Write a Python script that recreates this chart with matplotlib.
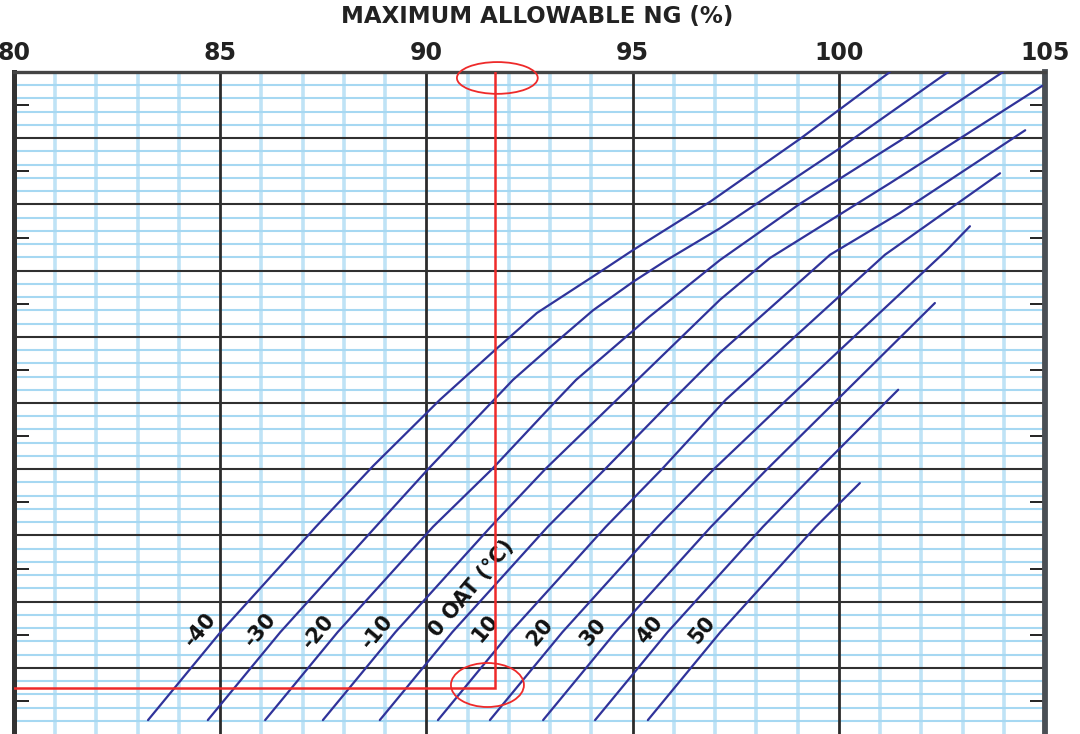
import matplotlib
matplotlib.use("Agg")
import matplotlib.pyplot as plt
from matplotlib.patches import Ellipse
import numpy as np

# ---- chart data: maximum allowable NG (%) vs chart level, one curve per OAT (deg C)
oat_labels = ["-40", "-30", "-20", "-10", "0 OAT (°C)", "10", "20", "30", "40", "50"]

ng_m40 = [83.25, 85.01, 87.32, 88.71, 90.33, 91.61, 92.68, 94.21, 95.01, 96.88, 99.06, 101.24]
lv_m40 = [0.21, 1.54, 3.13, 4.05, 5.05, 5.77, 6.36, 6.98, 7.31, 8.04, 8.99, 10.00]

ng_m30 = [84.70, 86.46, 88.77, 90.04, 92.10, 92.92, 94.04, 95.01, 95.83, 97.12, 100.03, 102.65]
lv_m30 = [0.21, 1.54, 3.13, 4.00, 5.35, 5.80, 6.40, 6.83, 7.16, 7.64, 8.85, 10.00]

ng_m20 = [86.09, 87.85, 90.16, 91.59, 93.17, 93.63, 95.40, 97.12, 99.06, 101.48, 103.98]
lv_m20 = [0.21, 1.54, 3.13, 4.00, 5.05, 5.35, 6.30, 7.16, 8.01, 8.96, 10.00]

ng_m10 = [87.49, 89.25, 91.56, 92.88, 94.62, 97.12, 98.33, 101.24, 104.93]
lv_m10 = [0.21, 1.54, 3.13, 4.00, 5.05, 6.56, 7.19, 8.32, 9.79]

ng_p00 = [88.87, 90.63, 92.94, 94.33, 95.98, 97.12, 99.79, 101.48, 104.52]
lv_p00 = [0.21, 1.54, 3.13, 4.00, 5.05, 5.76, 7.24, 7.87, 9.12]

ng_p10 = [90.28, 92.04, 94.35, 95.71, 97.26, 101.12, 103.91]
lv_p10 = [0.21, 1.54, 3.13, 4.00, 5.05, 7.24, 8.47]

ng_p20 = [91.54, 93.30, 95.61, 96.97, 98.74, 102.62, 103.18]
lv_p20 = [0.21, 1.54, 3.13, 4.00, 5.05, 7.31, 7.67]

ng_p30 = [92.83, 94.59, 96.90, 98.26, 102.33]
lv_p30 = [0.21, 1.54, 3.13, 4.00, 6.51]

ng_p40 = [94.09, 95.85, 98.16, 99.52, 101.44]
lv_p40 = [0.21, 1.54, 3.13, 4.00, 5.20]

ng_p50 = [95.37, 97.13, 99.44, 100.51]
lv_p50 = [0.21, 1.54, 3.13, 3.79]

ng_ticks = [80, 85, 90, 95, 100, 105]

# worked example: read-off point
ng_read = 91.66
level_read = 0.69

curves = [(ng_m40, lv_m40), (ng_m30, lv_m30), (ng_m20, lv_m20), (ng_m10, lv_m10),
          (ng_p00, lv_p00), (ng_p10, lv_p10), (ng_p20, lv_p20), (ng_p30, lv_p30),
          (ng_p40, lv_p40), (ng_p50, lv_p50)]

# curve label anchors (NG, level)
label_ng = [84.51, 85.97, 87.37, 88.80, 91.10, 91.42, 92.75, 94.04, 95.42, 96.68]
label_lv = [1.57, 1.57, 1.54, 1.54, 2.20, 1.60, 1.54, 1.54, 1.57, 1.57]

# ---- figure
plt.rcParams["font.family"] = ["DejaVu Sans"]
fig = plt.figure(figsize=(10.8, 7.34), dpi=100)
ax = fig.add_axes([14 / 1080, 0.0, 1031 / 1080, 662 / 734])
ax.set_xlim(80, 105)
ax.set_ylim(0, 10)

LINE = "#30339a"
RED = "#ee2a2a"

# chart grid: light blue minor divisions, dark major divisions
for x in np.arange(80, 105.01, 1.0):
    if abs(x % 5) > 1e-6:
        ax.axvline(x, color="#bfe3f6", lw=2.6, zorder=1)
for y in np.arange(0, 10.01, 0.2):
    if abs(y - round(y)) > 1e-6:
        ax.axhline(y, color="#a6d8f2", lw=1.5, zorder=1.1)
for x in np.arange(85, 104.9, 5.0):
    ax.axvline(x, color="#2b2b2b", lw=2.0, zorder=1.5)
for y in np.arange(1, 10, 1.0):
    ax.axhline(y, color="#303030", lw=1.5, zorder=1.5)

# OAT curves
for ng, lv in curves:
    ax.plot(ng, lv, color=LINE, lw=1.6, zorder=3, solid_capstyle="round",
            solid_joinstyle="round")

# curve labels
for txt, x, y in zip(oat_labels, label_ng, label_lv):
    ax.text(x, y, txt, rotation=50, rotation_mode="anchor", ha="center", va="center",
            fontsize=15, fontweight="bold", color="#111111", zorder=4)

# worked example in red
ax.plot([80, ng_read, ng_read], [level_read, level_read, 10], color=RED, lw=1.8,
        zorder=5, solid_joinstyle="miter")
ax.add_patch(Ellipse((91.72, 9.91), 1.96, 0.48, fill=False, ec=RED, lw=1.3,
                     zorder=5, clip_on=False))
ax.add_patch(Ellipse((91.48, 0.74), 1.77, 0.665, fill=False, ec=RED, lw=1.3,
                     zorder=5, clip_on=False))

# axes dressing
ax.xaxis.tick_top()
ax.set_xticks(ng_ticks)
ax.set_xticklabels([str(t) for t in ng_ticks], fontsize=17, fontweight="bold",
                   color="#222222")
ax.tick_params(axis="x", length=0, pad=5)
ax.set_yticks(np.arange(0.5, 10, 1.0))
ax.tick_params(axis="y", direction="in", length=11, width=1.4, color="#222222",
               left=True, right=True, labelleft=False, labelright=False)
ax.spines["bottom"].set_visible(False)
ax.spines["left"].set_linewidth(3.6)
ax.spines["left"].set_color("#333333")
ax.spines["right"].set_linewidth(4.2)
ax.spines["right"].set_color("#4a4f55")
ax.spines["top"].set_linewidth(2.4)
ax.spines["top"].set_color("#444444")

fig.text(0.497, 0.977, "MAXIMUM ALLOWABLE NG (%)", ha="center", va="center",
         fontsize=16.5, fontweight="bold", color="#222222")

fig.savefig("out.png", dpi=100)
